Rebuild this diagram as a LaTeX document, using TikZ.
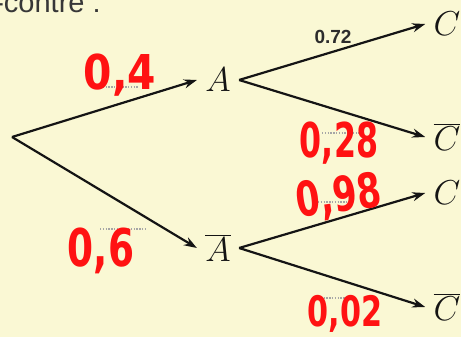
\documentclass[tikz,border=0pt]{standalone}
\usepackage{fontspec}
\usepackage{graphicx}
\usetikzlibrary{arrows.meta}
\newfontfamily\handfont{DejaVu Sans}
\newfontfamily\printfont{Liberation Sans}
\definecolor{paper}{RGB}{250,248,212}
\definecolor{ink}{RGB}{20,20,20}
\definecolor{marker}{RGB}{255,18,18}
\newcommand\hw[2][0.66]{\scalebox{#1}[1]{#2}}
\begin{document}
\begin{tikzpicture}[x=0.5pt,y=0.5pt,
	branch/.style={draw=ink,line width=1.1pt,-{Stealth[length=6.5pt,width=4.5pt]}},
	event/.style={text=ink,inner xsep=4pt,inner ysep=2pt,font=\fontsize{17.5}{18}\selectfont},
	blank/.style={draw=gray!70,line width=0.7pt,dash pattern=on 0.7pt off 0.7pt},
	proba/.style={text=marker,inner sep=0pt,anchor=base,font=\handfont\bfseries\fontsize{24}{24}\selectfont},
	printed/.style={text=ink!90,inner sep=0pt,font=\printfont\bfseries\fontsize{9.5}{10}\selectfont}]
	\useasboundingbox (0,0) rectangle (461,337);
	\fill[paper] (0,0) rectangle (461,337);
	\clip (0,0) rectangle (461,337);
	\node[anchor=base west,inner sep=0pt,text=ink!85,font=\printfont\fontsize{14.5}{15}\selectfont] (intro) at (-27,324) {ci-contre :};
	\coordinate (root) at (12,200);
	\node[event] (A) at (218,257) {$A$};
	\node[event] (Ab) at (218,89) {$\overline{A}$};
	\node[event] (C1) at (447,313) {$C$};
	\node[event] (Cb1) at (447,200) {$\overline{C}$};
	\node[event] (C2) at (447,144) {$C$};
	\node[event] (Cb2) at (447,30) {$\overline{C}$};
	\draw[blank] (100,250) -- (138,250);
	\draw[blank] (100,108) -- (145,108);
	\draw[blank] (322,204) -- (363,204);
	\draw[blank] (318,135) -- (353,135);
	\draw[blank] (318,39) -- (353,39);
	\draw[branch] (root) -- (A.west);
	\draw[branch] (root) -- (Ab.west);
	\draw[branch] (A.east) -- (C1.west);
	\draw[branch] (A.east) -- (Cb1.west);
	\draw[branch] (Ab.east) -- (C2.west);
	\draw[branch] (Ab.east) -- (Cb2.west);
	\node[printed] (pC) at (333,300) {0.72};
	\node[proba] (pA) at (120,247) {\hw[0.85]{0,4}};
	\node[proba,font=\handfont\bfseries\fontsize{26}{26}\selectfont] (pAb) at (101,70) {\hw[0.72]{0,6}};
	\node[proba] (pCb) at (339,179) {\hw{0,28}};
	\node[proba,rotate=8] (pC2) at (341,125) {\hw[0.72]{0,98}};
	\node[proba,font=\handfont\bfseries\fontsize{21}{21}\selectfont] (pCb2) at (345,10) {\hw[0.72]{0,02}};
\end{tikzpicture}
\end{document}
